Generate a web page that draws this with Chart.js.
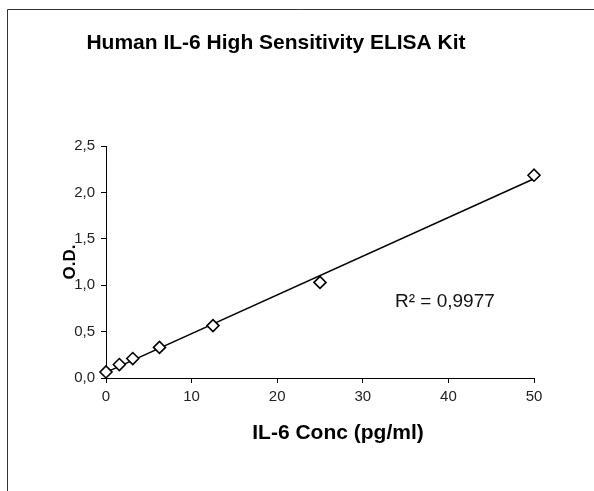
<!DOCTYPE html>
<html>
<head>
<meta charset="utf-8">
<script src="https://cdn.jsdelivr.net/npm/chart.js@4.4.1/dist/chart.umd.min.js"></script>
<style>
  html, body { margin: 0; padding: 0; background: #fff; }
  #wrap { width: 594px; height: 491px; position: relative; }
</style>
</head>
<body>
<div id="wrap"><canvas id="chartElisa"></canvas></div>
<script>
// Standard curve data
const concValues = [0, 1.5625, 3.125, 6.25, 12.5, 25, 50];
const odValues = [0.065, 0.145, 0.21, 0.33, 0.565, 1.03, 2.185];
const xTicks = [0, 10, 20, 30, 40, 50];
const yTicks = [0, 0.5, 1.0, 1.5, 2.0, 2.5];
const chartTitle = 'Human IL-6 High Sensitivity ELISA Kit';
const xTitle = 'IL-6 Conc (pg/ml)';
const yTitle = 'O.D.';
const rSquaredLabel = 'R² = 0,9977';

const FONT = '"Liberation Sans", Arial, sans-serif';

// Linear trendline (least squares, like the spreadsheet did)
function linearFit(xs, ys) {
  const n = xs.length;
  const mx = xs.reduce((a, v) => a + v, 0) / n;
  const my = ys.reduce((a, v) => a + v, 0) / n;
  let sxy = 0, sxx = 0;
  for (let i = 0; i < n; i++) {
    sxy += (xs[i] - mx) * (ys[i] - my);
    sxx += (xs[i] - mx) * (xs[i] - mx);
  }
  const slope = sxy / sxx;
  return { slope: slope, intercept: my - slope * mx };
}

const fit = linearFit(concValues, odValues);
const xMin = xTicks[0], xMax = xTicks[xTicks.length - 1];
const trendPoints = [
  { x: xMin, y: fit.intercept + fit.slope * xMin },
  { x: xMax, y: fit.intercept + fit.slope * xMax }
];

// frame, titles and R² label
const decorPlugin = {
  id: 'decor',
  beforeDraw(chart) {
    const ctx = chart.ctx;
    ctx.save();
    ctx.fillStyle = '#fff';
    ctx.fillRect(0, 0, chart.width, chart.height);
    ctx.strokeStyle = '#333';
    ctx.lineWidth = 1;
    ctx.beginPath();
    ctx.moveTo(7.5, chart.height);
    ctx.lineTo(7.5, 9.5);
    ctx.lineTo(chart.width, 9.5);
    ctx.stroke();
    ctx.restore();
  },
  afterDraw(chart) {
    const ctx = chart.ctx;
    ctx.save();
    ctx.fillStyle = '#000';
    ctx.font = 'bold 21px ' + FONT;
    ctx.textAlign = 'center';
    ctx.textBaseline = 'alphabetic';
    ctx.fillText(chartTitle, 276, 49);

    // x axis title sits a bit right of the plot centre in the original
    ctx.font = 'bold 21px ' + FONT;
    ctx.fillText(xTitle, 338, 439);

    ctx.font = '19px ' + FONT;
    ctx.textAlign = 'left';
    ctx.fillStyle = '#111';
    ctx.fillText(rSquaredLabel, 395, 307);
    ctx.restore();
  }
};

const ctx = document.getElementById('chartElisa').getContext('2d');

window.elisaChart = new Chart(ctx, {
  type: 'scatter',
  data: {
    datasets: [
      {
        label: 'O.D.',
        data: concValues.map((c, i) => ({ x: c, y: odValues[i] })),
        pointStyle: 'rectRot',
        pointRadius: 6,
        pointHoverRadius: 6,
        pointBackgroundColor: '#fff',
        pointBorderColor: '#000',
        pointBorderWidth: 1.6,
        showLine: false,
        clip: false,
        order: 1
      },
      {
        label: 'Linear',
        type: 'line',
        data: trendPoints,
        borderColor: '#000',
        borderWidth: 1.5,
        pointRadius: 0,
        fill: false,
        clip: false,
        order: 2
      }
    ]
  },
  options: {
    responsive: true,
    maintainAspectRatio: false,
    animation: false,
    events: [],
    layout: {
      padding: { left: 0, right: 60, top: 146, bottom: 0 }
    },
    plugins: {
      legend: { display: false },
      title: { display: false },
      tooltip: { enabled: false }
    },
    scales: {
      x: {
        type: 'linear',
        min: xMin,
        max: xMax,
        afterBuildTicks(scale) {
          scale.ticks = xTicks.map(v => ({ value: v }));
        },
        afterFit(scale) { scale.height = 113; },
        border: { display: true, color: '#000', width: 1 },
        grid: { drawOnChartArea: false, color: '#000', tickLength: 5 },
        ticks: {
          color: '#222',
          font: { family: FONT, size: 15 },
          padding: 5,
          maxRotation: 0,
          callback: v => String(v)
        },
        title: { display: false }
      },
      y: {
        type: 'linear',
        min: yTicks[0],
        max: yTicks[yTicks.length - 1],
        afterBuildTicks(scale) {
          scale.ticks = yTicks.map(v => ({ value: v }));
        },
        afterFit(scale) { scale.width = 106; },
        border: { display: true, color: '#000', width: 1 },
        grid: { drawOnChartArea: false, color: '#000', tickLength: 5 },
        ticks: {
          color: '#222',
          font: { family: FONT, size: 15 },
          padding: 6,
          callback: v => v.toFixed(1).replace('.', ',')
        },
        title: {
          display: true,
          text: yTitle,
          color: '#000',
          font: { family: FONT, size: 17, weight: 'bold' },
          padding: { top: 60, bottom: 0 }
        }
      }
    }
  },
  plugins: [decorPlugin]
});
</script>
</body>
</html>
